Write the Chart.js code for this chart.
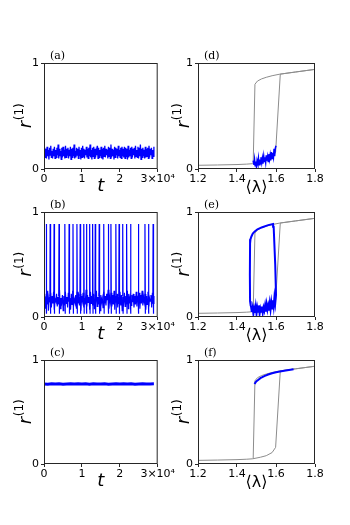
<!DOCTYPE html>
<html>
<head>
<meta charset="utf-8">
<script src="https://cdn.jsdelivr.net/npm/chart.js@4"></script>
<style>
  body { margin: 0; background: #fff; width: 350px; height: 525px; position: relative; overflow: hidden; }
  canvas { position: absolute; }
</style>
</head>
<body>
<canvas id="ca" width="176" height="150" style="left:0;top:47px"></canvas>
<canvas id="cb" width="176" height="149" style="left:0;top:196px"></canvas>
<canvas id="cc" width="176" height="148" style="left:0;top:344px"></canvas>
<canvas id="cd" width="182" height="150" style="left:168px;top:47px"></canvas>
<canvas id="ce" width="182" height="149" style="left:168px;top:196px"></canvas>
<canvas id="cf" width="182" height="148" style="left:168px;top:344px"></canvas>
<script>
// time series (left column), t from 0 to ~2.9e4
const T_END = 29000;
const aR = [
  0.14,0.20,0.11,0.19,0.10,0.21,0.12,0.18,0.09,0.20,
  0.13,0.22,0.11,0.17,0.10,0.19,0.12,0.21,0.10,0.18,
  0.11,0.20,0.13,0.23,0.10,0.19,0.12,0.17,0.09,0.20,
  0.11,0.21,0.12,0.18,0.10,0.22,0.11,0.19,0.13,0.20,
  0.10,0.18,0.12,0.21,0.09,0.19,0.11,0.20,0.12,0.23,
  0.10,0.17,0.11,0.20,0.13,0.19,0.10,0.21,0.12,0.18,
  0.09,0.20,0.11,0.22,0.12,0.19,0.10,0.18,0.13,0.21,
  0.11,0.19,0.10,0.20,0.12,0.23,0.11,0.18,0.09,0.20,
  0.12,0.21,0.10,0.19,0.11,0.17,0.13,0.22,0.10,0.20,
  0.11,0.18,0.12,0.21,0.10,0.19,0.09,0.20,0.12,0.22,
  0.11,0.19,0.13,0.18,0.10,0.21,0.12,0.20,0.10,0.23,
  0.11,0.19,0.12,0.18,0.09,0.21,0.11,0.20,0.13,0.19,
  0.10,0.22,0.12,0.18,0.11,0.20,0.10,0.21,0.12,0.19,
  0.11,0.21,0.10,0.20,0.12,0.19,0.09,0.22,0.11,0.18,
  0.12,0.20,0.10,0.21,0.11,0.19,0.13,0.20,0.10,0.22,
  0.12,0.18,0.11,0.21,0.10,0.20,0.12,0.23,0.09,0.19,
  0.11,0.20,0.12,0.18,0.10,0.21,0.11,0.19,0.12,0.20,
  0.10,0.22,0.11,0.19,0.13,0.20,0.10,0.18,0.12,0.21
];
const bR = [
  0.15,0.22,0.08,0.19,0.12,0.25,0.06,0.18,0.14,0.23,
  0.09,0.20,0.13,0.24,0.07,0.17,0.15,0.22,0.10,0.19,
  0.12,0.26,0.08,0.18,0.14,0.21,0.06,0.20,0.11,0.24,
  0.13,0.19,0.09,0.23,0.15,0.18,0.07,0.22,0.12,0.25,
  0.10,0.17,0.14,0.21,0.08,0.24,0.13,0.19,0.11,0.22,
  0.06,0.20,0.15,0.23,0.09,0.18,0.12,0.26,0.10,0.21,
  0.14,0.19,0.07,0.24,0.13,0.20,0.11,0.22,0.08,0.18,
  0.15,0.25,0.10,0.19,0.12,0.23,0.06,0.21,0.14,0.18,
  0.09,0.24,0.13,0.20,0.11,0.22,0.16,0.26,0.08,0.19,
  0.14,0.23,0.10,0.21,0.12,0.25,0.07,0.20,0.15,0.22,
  0.09,0.18,0.13,0.24,0.11,0.21,0.06,0.19,0.14,0.23,
  0.10,0.20,0.12,0.25,0.08,0.22,0.13,0.19,0.11,0.21,
  0.14,0.22,0.09,0.20,0.12,0.24,0.10,0.18,0.15,0.23,
  0.08,0.21,0.13,0.25,0.11,0.19,0.14,0.22,0.07,0.20,
  0.12,0.24,0.10,0.18,0.15,0.21,0.09,0.23,0.13,0.20
];
const bSpikeT = [600,1630,2660,3960,5500,6620,7650,8690,9550,10500,11200,12050,12830,13520,
  14560,15770,16970,17660,18960,19810,20770,21800,22840,24900,26640,27570,28790];
const B_BASE = 0.2, B_PEAK = 0.885, B_DIP = 0.03;
const cR = [
  0.770,0.768,0.771,0.769,0.772,0.768,0.770,0.772,0.769,0.771,
  0.770,0.772,0.768,0.771,0.770,0.769,0.771,0.768,0.770,0.772,
  0.769,0.771,0.770,0.772,0.768,0.770,0.771,0.769,0.770,0.771
];

// sweeps over <lambda> (right column)
const fwdLam = [1.20,1.30,1.40,1.45,1.48,1.52,1.55,1.58,1.598,1.622,1.70,1.80];
const fwdR   = [0.035,0.038,0.042,0.046,0.050,0.065,0.080,0.110,0.160,0.895,0.915,0.940];
const bwdLam = [1.80,1.70,1.62,1.58,1.55,1.526,1.505,1.492,1.483];
const bwdR   = [0.940,0.915,0.895,0.880,0.865,0.850,0.830,0.800,0.050];

const dLam = [1.483,1.487,1.490,1.493,1.497,1.500,1.503,1.507,1.510,1.513,1.517,1.520,
  1.523,1.527,1.530,1.533,1.537,1.540,1.543,1.547,1.550,1.553,1.557,1.560,1.563,1.567,
  1.570,1.573,1.577,1.580,1.583,1.587,1.590,1.593,1.597,1.600];
const dR = [0.08,0.04,0.09,0.03,0.07,0.02,0.08,0.05,0.10,0.04,0.09,0.05,0.11,0.06,0.10,0.05,
  0.12,0.07,0.11,0.06,0.13,0.08,0.12,0.07,0.14,0.09,0.13,0.08,0.16,0.10,0.15,0.11,0.19,0.12,0.20,0.22];

const eLam = [1.472,1.476,1.480,1.484,1.488,1.492,1.496,1.500,1.504,1.508,1.512,1.516,1.520,
  1.524,1.528,1.532,1.536,1.540,1.544,1.548,1.552,1.556,1.560,1.564,1.568,1.572,1.576,1.580,
  1.584,1.588,1.592,1.596,1.600,
  1.596,1.588,1.585,1.560,1.526,1.505,1.491,1.481,1.474,1.469,1.467,1.466,1.467,1.470,1.472];
const eR = [0.10,0.05,0.09,0.03,0.08,0.04,0.10,0.03,0.09,0.05,0.11,0.03,0.08,0.05,0.10,0.04,
  0.09,0.06,0.11,0.05,0.12,0.07,0.11,0.06,0.13,0.07,0.14,0.08,0.16,0.10,0.19,0.13,0.21,
  0.50,0.86,0.885,0.875,0.853,0.835,0.815,0.795,0.767,0.740,0.700,0.400,0.150,0.110,0.100];

const fLam = [1.490,1.495,1.500,1.510,1.520,1.540,1.560,1.580,1.600,1.620,1.650,1.690];
const fR   = [0.770,0.785,0.795,0.810,0.825,0.845,0.860,0.872,0.882,0.890,0.900,0.912];

const BLUE = '#0000ff';
const GRAY = '#8c8c8c';
const INK = '#262626';

function pts(xs, ys) { return xs.map((x, i) => ({ x: x, y: ys[i] })); }
function series(ys) { return ys.map((y, i) => ({ x: i * T_END / (ys.length - 1), y: y })); }

const spikePts = [];
bSpikeT.forEach(s => {
  spikePts.push({ x: s - 70, y: B_BASE }, { x: s, y: B_PEAK }, { x: s + 110, y: B_DIP }, { x: s + 111, y: null });
});

function line(data, color, width) {
  return { data: data, borderColor: color, borderWidth: width, pointRadius: 0, fill: false, tension: 0 };
}

// frame, panel letter and the r^(1) axis title
const panelPlugin = {
  id: 'panel',
  afterDraw(chart, args, opts) {
    const { ctx, chartArea: a } = chart;
    ctx.save();
    ctx.strokeStyle = INK;
    ctx.lineWidth = 1;
    ctx.strokeRect(a.left + 0.5, a.top + 0.5, a.right - a.left - 1, a.bottom - a.top - 1);
    ctx.fillStyle = '#000';
    ctx.font = '11px "DejaVu Serif"';
    ctx.textBaseline = 'alphabetic';
    ctx.fillText(opts.label, a.left + 6, a.top - 4);

    // y title, rotated
    ctx.translate(opts.titleX, (a.top + a.bottom) / 2);
    ctx.rotate(-Math.PI / 2);
    ctx.font = 'italic 18px "DejaVu Sans"';
    const rw = ctx.measureText('r').width;
    ctx.font = '12px "DejaVu Sans"';
    const sw = ctx.measureText('(1)').width;
    const x0 = -(rw + sw) / 2;
    ctx.textBaseline = 'alphabetic';
    ctx.font = 'italic 18px "DejaVu Sans"';
    ctx.fillText('r', x0, 6);
    ctx.font = '12px "DejaVu Sans"';
    ctx.fillText('(1)', x0 + rw + 0.5, -2);
    ctx.restore();
  }
};

function yAxis(w) {
  return {
    min: 0, max: 1,
    border: { display: false },
    grid: { drawOnChartArea: false, tickLength: 3, color: INK },
    ticks: { stepSize: 1, padding: 2, color: '#000', font: { family: 'DejaVu Sans', size: 11 } },
    afterFit: s => { s.width = w; }
  };
}

const tAxis = {
  type: 'linear', min: 0, max: 30000,
  border: { display: false },
  grid: { drawOnChartArea: false, tickLength: 3, color: INK },
  ticks: { stepSize: 10000, autoSkip: false, maxRotation: 0, padding: 1, color: '#000',
    font: { family: 'DejaVu Sans', size: 11 },
    callback: v => v === 30000 ? '3×10⁴' : String(v / 10000) },
  title: { display: true, text: 't', color: '#000', padding: 0,
    font: { family: 'DejaVu Sans', style: 'italic', size: 18 } },
  afterFit: s => { s.height = 28; }
};

const lamAxis = {
  type: 'linear', min: 1.2, max: 1.8,
  border: { display: false },
  grid: { drawOnChartArea: false, tickLength: 3, color: INK },
  ticks: { stepSize: 0.2, autoSkip: false, maxRotation: 0, padding: 1, color: '#000',
    font: { family: 'DejaVu Sans', size: 11 },
    callback: v => v.toFixed(1) },
  title: { display: true, text: '⟨λ⟩', color: '#000', padding: 0,
    font: { family: 'DejaVu Sans', size: 16 } },
  afterFit: s => { s.height = 28; }
};

function makeChart(id, label, datasets, xAxis, left) {
  new Chart(document.getElementById(id), {
    type: 'line',
    data: { datasets: datasets },
    options: {
      responsive: false,
      animation: false,
      layout: { padding: { top: 16, left: 0, bottom: 0, right: left ? 16 : 35 } },
      plugins: { legend: { display: false }, tooltip: { enabled: false },
        panel: { label: label, titleX: left ? 25 : 15 } },
      scales: { x: xAxis, y: yAxis(left ? 44 : 30) }
    },
    plugins: [panelPlugin]
  });
}

makeChart('ca', '(a)', [line(series(aR), BLUE, 1.3)], tAxis, true);
makeChart('cb', '(b)', [line(spikePts, BLUE, 1.2), line(series(bR), BLUE, 1.2)], tAxis, true);
makeChart('cc', '(c)', [line(series(cR), BLUE, 3)], tAxis, true);

const grayLines = () => [line(pts(fwdLam, fwdR), GRAY, 1), line(pts(bwdLam, bwdR), GRAY, 1)];
makeChart('cd', '(d)', [line(pts(dLam, dR), BLUE, 1.5)].concat(grayLines()), lamAxis, false);
makeChart('ce', '(e)', [line(pts(eLam, eR), BLUE, 2)].concat(grayLines()), lamAxis, false);
makeChart('cf', '(f)', [line(pts(fLam, fR), BLUE, 2)].concat(grayLines()), lamAxis, false);
</script>
</body>
</html>
